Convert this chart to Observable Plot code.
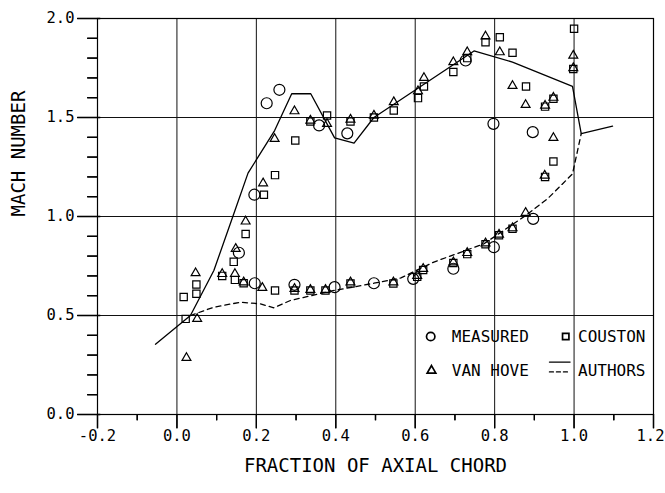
<!DOCTYPE html>
<html><head><meta charset="utf-8">
<script src="https://cdn.jsdelivr.net/npm/d3@7"></script>
<script src="https://cdn.jsdelivr.net/npm/@observablehq/plot@0.6"></script>
<style>
html,body{margin:0;padding:0;background:#fff;}
#chart svg{font-family:"DejaVu Sans Mono",monospace;background:#fff;color:#000;}
</style></head>
<body><div id="chart"></div>
<script>
// ---- data (fraction of axial chord, Mach number) ----
const measured = [
  [0.156,0.817],[0.196,0.663],[0.195,1.11],[0.226,1.572],[0.258,1.64],
  [0.296,0.655],[0.358,1.46],[0.397,0.643],[0.429,1.42],[0.496,0.663],
  [0.595,0.685],[0.696,0.736],[0.727,1.788],[0.797,1.468],[0.798,0.845],
  [0.896,1.426],[0.897,0.988]
];
const vanHove = [
  [0.024,0.286],[0.051,0.483],[0.047,0.714],[0.114,0.71],[0.146,0.71],
  [0.148,0.837],[0.173,0.975],[0.168,0.668],[0.217,1.168],[0.215,0.64],
  [0.246,1.392],[0.296,1.532],[0.296,0.635],[0.336,1.485],[0.336,0.63],
  [0.378,1.468],[0.374,0.63],[0.437,1.49],[0.437,0.668],[0.496,1.51],
  [0.545,0.668],[0.546,1.578],[0.605,0.70],[0.607,1.633],[0.622,1.70],
  [0.62,0.736],[0.696,1.78],[0.696,0.769],[0.731,1.83],[0.731,0.816],
  [0.777,1.91],[0.777,0.865],[0.811,0.909],[0.813,1.83],[0.845,0.941],
  [0.845,1.66],[0.878,1.564],[0.878,1.019],[0.927,1.56],[0.926,1.207],
  [0.948,1.60],[0.948,1.397],[0.998,1.813],[0.998,1.75]
];
const couston = [
  [0.022,0.483],[0.017,0.593],[0.049,0.61],[0.049,0.657],[0.114,0.70],
  [0.143,0.771],[0.146,0.68],[0.173,0.912],[0.168,0.663],[0.219,1.11],
  [0.247,1.209],[0.247,0.626],[0.298,1.384],[0.296,0.626],[0.336,1.48],
  [0.336,0.626],[0.378,1.51],[0.374,0.626],[0.437,1.48],[0.437,0.662],
  [0.496,1.50],[0.545,0.662],[0.546,1.535],[0.607,1.598],[0.622,1.657],
  [0.605,0.695],[0.62,0.73],[0.696,1.73],[0.696,0.765],[0.731,1.80],
  [0.731,0.81],[0.777,1.88],[0.777,0.86],[0.811,0.905],[0.813,1.905],
  [0.845,1.827],[0.845,0.938],[0.879,1.657],[0.927,1.555],[0.927,1.20],
  [0.948,1.595],[0.948,1.278],[1.0,1.948],[0.998,1.745]
];
const authorsSuction = [
  [-0.054,0.355],[0.034,0.5],[0.093,0.727],[0.143,1.013],[0.179,1.219],
  [0.246,1.434],[0.289,1.62],[0.337,1.62],[0.397,1.397],[0.446,1.371],
  [0.496,1.50],[0.748,1.836],[0.845,1.78],[0.996,1.657],[1.018,1.418],
  [1.097,1.456]
];
const authorsPressure = [
  [0.034,0.5],[0.093,0.542],[0.16,0.567],[0.21,0.559],[0.244,0.539],
  [0.286,0.576],[0.387,0.623],[0.496,0.663],[0.564,0.69],[0.647,0.77],
  [0.773,0.862],[0.878,1.005],[0.933,1.089],[0.996,1.215],[1.018,1.418]
];
// ---- axes ----
const xMajor = [-0.2,0,0.2,0.4,0.6,0.8,1.0,1.2];
const xTickLabels = ["-0.2","0.0","0.2","0.4","0.6","0.8","1.0","1.2"];
const xMinor = [-0.1,0.1,0.3,0.5,0.7,0.9,1.1];
const yMajor = [0,0.5,1.0,1.5,2.0];
const yTickLabels = ["0.0","0.5","1.0","1.5","2.0"];
const yMinor = [0.1,0.2,0.3,0.4,0.6,0.7,0.8,0.9,1.1,1.2,1.3,1.4,1.6,1.7,1.8,1.9];
const xGrid = [0,0.2,0.4,0.6,0.8,1.0];
const yGrid = [0.5,1.0,1.5];
const xTitle = "FRACTION OF AXIAL CHORD";
const yTitle = "MACH NUMBER";
// legend entries (anchor in data space)
const legendCircle = [{x:0.639, y:0.394}];
const legendSquare = [{x:0.979, y:0.394}];
const legendTriangle = [{x:0.641, y:0.222}];
const legendTexts = [
  {x:0.692, y:0.394, t:"MEASURED"},
  {x:1.01, y:0.394, t:"COUSTON"},
  {x:0.692, y:0.222, t:"VAN HOVE"},
  {x:1.01, y:0.222, t:"AUTHORS"}
];
const legendSolid = [[0.938,0.265],[0.99,0.265]];
const legendDashed = [[0.938,0.215],[0.99,0.215]];

// layout
const W = 665, H = 493, mL = 97, mR = 12, mT = 18, mB = 79;
const xDom = [-0.2, 1.2], yDom = [0, 2];
const pxPerY = (H - mT - mB) / (yDom[1] - yDom[0]);
const pxPerX = (W - mL - mR) / (xDom[1] - xDom[0]);
// tick marks as rows (lengths in pixels converted to data units)
const xTickRows = [
  ...xMajor.map(v => ({x: v, y1: yDom[0], y2: yDom[0] - 14 / pxPerY, w: 1.3})),
  ...xMinor.map(v => ({x: v, y1: yDom[0], y2: yDom[0] - 6 / pxPerY, w: 1.3}))
];
const yTickRows = [
  ...yMajor.map(v => ({y: v, x1: xDom[0] + 3 / pxPerX, x2: xDom[0] - 20 / pxPerX, w: 1.3})),
  ...yMinor.map(v => ({y: v, x1: xDom[0], x2: xDom[0] - 10 / pxPerX, w: 1.3}))
];
const xLabelRows = xMajor.map((v, i) => ({x: v, t: xTickLabels[i]}));
const yLabelRows = yMajor.map((v, i) => ({y: v, t: yTickLabels[i]}));
const lastX = xLabelRows.length - 1;

const X = d => d[0], Y = d => d[1];

const chart = Plot.plot({
  width: W, height: H,
  marginLeft: mL, marginRight: mR, marginTop: mT, marginBottom: mB,
  x: {domain: xDom, axis: null},
  y: {domain: yDom, axis: null},
  marks: [
    Plot.ruleX(xGrid, {stroke: "#111", strokeWidth: 1}),
    Plot.ruleY(yGrid, {stroke: "#111", strokeWidth: 1}),
    Plot.frame({stroke: "#000", strokeWidth: 1.2}),
    // tick marks (rules, doubled by links along the same segments)
    Plot.ruleX(xTickRows, {x: "x", y1: "y1", y2: "y2", stroke: "#000", strokeWidth: "w"}),
    Plot.ruleY(yTickRows, {y: "y", x1: "x1", x2: "x2", stroke: "#000", strokeWidth: "w"}),
    Plot.link(xTickRows, {x1: "x", x2: "x", y1: "y1", y2: "y2", stroke: "#000", strokeWidth: "w"}),
    Plot.link(yTickRows, {y1: "y", y2: "y", x1: "x1", x2: "x2", stroke: "#000", strokeWidth: "w"}),
    // tick labels
    Plot.text(xLabelRows.slice(0, lastX), {x: "x", y: yDom[0], text: "t", dy: 15, lineAnchor: "top", fontSize: 15.5, fill: "#000"}),
    Plot.text(xLabelRows.slice(lastX), {x: "x", y: yDom[0], text: "t", dy: 15, dx: 11, textAnchor: "end", lineAnchor: "top", fontSize: 15.5, fill: "#000"}),
    Plot.text(yLabelRows, {x: xDom[0], y: "y", text: "t", dx: -23, textAnchor: "end", fontSize: 15.5, fill: "#000"}),
    // data
    Plot.line(authorsSuction, {x: X, y: Y, stroke: "#000", strokeWidth: 1.3}),
    Plot.line(authorsPressure, {x: X, y: Y, stroke: "#000", strokeWidth: 1.3, strokeDasharray: "5,4"}),
    Plot.dot(measured, {x: X, y: Y, symbol: "circle", r: 5.5, stroke: "#000", strokeWidth: 1.2, fill: "none"}),
    Plot.dot(couston, {x: X, y: Y, symbol: "square", r: 4.1, stroke: "#000", strokeWidth: 1.2, fill: "none"}),
    Plot.dot(vanHove, {x: X, y: Y, symbol: "triangle", r: 3.3, stroke: "#000", strokeWidth: 1.2, fill: "none"}),
    // legend
    Plot.dot(legendCircle, {x: "x", y: "y", symbol: "circle", r: 4.2, stroke: "#000", strokeWidth: 1.7, fill: "none"}),
    Plot.dot(legendSquare, {x: "x", y: "y", symbol: "square", r: 3.6, stroke: "#000", strokeWidth: 1.7, fill: "none"}),
    Plot.dot(legendTriangle, {x: "x", y: "y", symbol: "triangle", r: 3.2, stroke: "#000", strokeWidth: 1.7, fill: "none"}),
    Plot.text(legendTexts, {x: "x", y: "y", text: "t", textAnchor: "start", fontSize: 16, fill: "#000"}),
    Plot.line(legendSolid, {x: X, y: Y, stroke: "#000", strokeWidth: 1.3}),
    Plot.line(legendDashed, {x: X, y: Y, stroke: "#000", strokeWidth: 1.3, strokeDasharray: "4,3"}),
    // titles
    Plot.text([xTitle], {frameAnchor: "bottom", dy: 57, text: d => d, fontSize: 19, fill: "#000"}),
    Plot.text([yTitle], {frameAnchor: "left", dx: -79, rotate: -90, text: d => d, fontSize: 19, fill: "#000"})
  ]
});
document.getElementById("chart").appendChild(chart);
</script>
</body></html>
